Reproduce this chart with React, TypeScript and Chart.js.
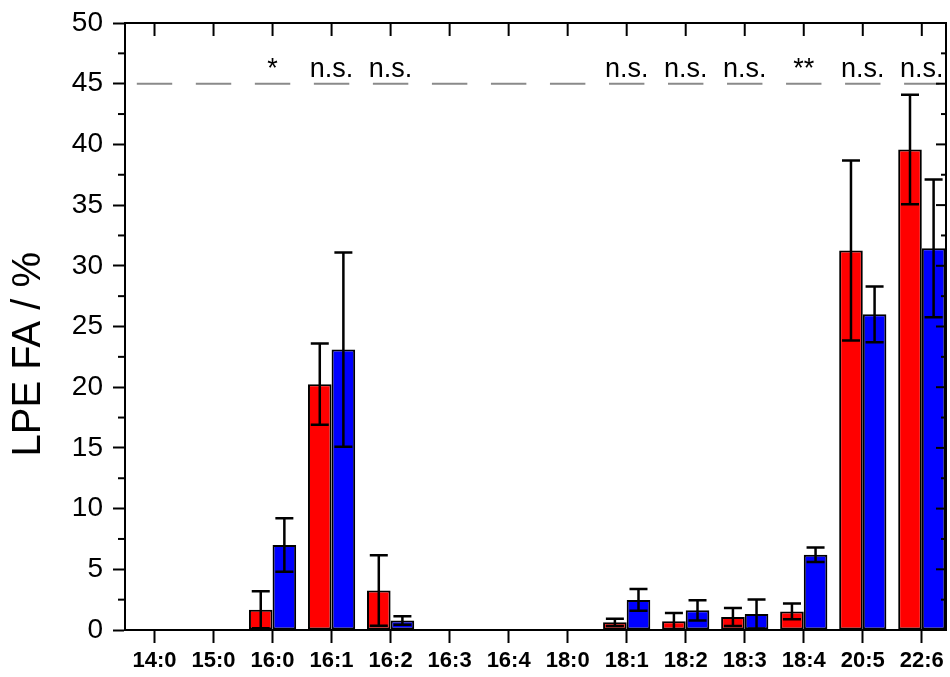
import React, { useEffect, useRef } from 'react';
import { Chart, registerables } from 'chart.js';

Chart.register(...registerables);

const categories = ['14:0', '15:0', '16:0', '16:1', '16:2', '16:3', '16:4', '18:0', '18:1', '18:2', '18:3', '18:4', '20:5', '22:6'];
const redMean = [null, null, 1.67, 20.25, 3.25, null, null, null, 0.63, 0.72, 1.07, 1.53, 31.26, 39.58];
const redErr = [null, null, 1.53, 3.35, 2.9, null, null, null, 0.3, 0.68, 0.75, 0.65, 7.42, 4.52];
const blueMean = [null, null, 7.0, 23.1, 0.78, null, null, null, 2.48, 1.62, 1.32, 6.2, 26.0, 31.44];
const blueErr = [null, null, 2.2, 8.0, 0.35, null, null, null, 0.9, 0.84, 1.2, 0.6, 2.3, 5.67];
const sigLabels = ['', '', '*', 'n.s.', 'n.s.', '', '', '', 'n.s.', 'n.s.', 'n.s.', '**', 'n.s.', 'n.s.'];
const sigLevel = 45;
const yMin = 0;
const yMax = 50;
const yStep = 5;
const yTitle = 'LPE FA / %';

const FONT = '"Liberation Sans", Arial, sans-serif';

const framePlugin = {
  id: 'frameExtras',
  afterDatasetsDraw(chart: any) {
    const { ctx, scales } = chart;
    const y = scales.y;
    ctx.save();
    ctx.strokeStyle = '#000';
    ctx.lineWidth = 2.5;
    chart.data.datasets.forEach((ds: any, di: number) => {
      const meta = chart.getDatasetMeta(di);
      meta.data.forEach((el: any, i: number) => {
        const v = ds.data[i] ? ds.data[i].y : null;
        const e = ds.errors[i];
        if (v == null || e == null) return;
        const x = el.x;
        const yt = y.getPixelForValue(v + e);
        const yb = y.getPixelForValue(v - e);
        ctx.beginPath();
        ctx.moveTo(x, yt);
        ctx.lineTo(x, yb);
        ctx.moveTo(x - 9, yt);
        ctx.lineTo(x + 9, yt);
        ctx.moveTo(x - 9, yb);
        ctx.lineTo(x + 9, yb);
        ctx.stroke();
      });
    });
    ctx.restore();
  },
  afterDraw(chart: any) {
    const { ctx, chartArea, scales } = chart;
    const x = scales.x;
    const y = scales.y;
    const { left, right, top, bottom } = chartArea;
    ctx.save();
    // significance dashes + labels
    const ys = y.getPixelForValue(sigLevel);
    ctx.strokeStyle = '#8a8a8a';
    ctx.lineWidth = 2;
    categories.forEach((_, i) => {
      const x0 = x.getPixelForValue(i + 1 - 0.3);
      const x1 = x.getPixelForValue(i + 1 + 0.3);
      ctx.beginPath();
      ctx.moveTo(x0, ys);
      ctx.lineTo(Math.min(x1, right), ys);
      ctx.stroke();
    });
    ctx.fillStyle = '#000';
    ctx.font = `27px ${FONT}`;
    ctx.textAlign = 'center';
    ctx.textBaseline = 'alphabetic';
    sigLabels.forEach((t, i) => {
      if (!t) return;
      ctx.fillText(t, x.getPixelForValue(i + 1), ys - 7);
    });
    // frame: top and right axes
    ctx.strokeStyle = '#000';
    ctx.lineWidth = 2;
    ctx.beginPath();
    ctx.moveTo(left - 1, top);
    ctx.lineTo(right + 1, top);
    ctx.moveTo(right, top);
    ctx.lineTo(right, bottom + 1);
    ctx.stroke();
    // top ticks (inward)
    categories.forEach((_, i) => {
      const px = x.getPixelForValue(i + 1);
      ctx.beginPath();
      ctx.moveTo(px, top);
      ctx.lineTo(px, top + 13);
      ctx.stroke();
    });
    // left minor ticks (outward), right ticks (inward)
    for (let v = yMin; v <= yMax + 1e-9; v += yStep / 2) {
      const py = y.getPixelForValue(v);
      const major = Math.abs(v / yStep - Math.round(v / yStep)) < 1e-6;
      if (!major) {
        ctx.beginPath();
        ctx.moveTo(left, py);
        ctx.lineTo(left - 7, py);
        ctx.stroke();
      }
      ctx.beginPath();
      ctx.moveTo(right, py);
      ctx.lineTo(right - (major ? 10 : 5), py);
      ctx.stroke();
    }
    ctx.restore();
  },
};

export default function App() {
  const ref = useRef<HTMLCanvasElement | null>(null);
  useEffect(() => {
    if (!ref.current) return;
    const chart = new Chart(ref.current, {
      type: 'bar',
      data: {
        datasets: [
          {
            label: 'red',
            data: categories.map((_, i) => ({ x: i + 1, y: redMean[i] })),
            errors: redErr,
            backgroundColor: '#ff0000',
            borderColor: '#000',
            borderWidth: 2,
            borderSkipped: false,
            categoryPercentage: 0.8,
            barPercentage: 1.0,
          } as any,
          {
            label: 'blue',
            data: categories.map((_, i) => ({ x: i + 1, y: blueMean[i] })),
            errors: blueErr,
            backgroundColor: '#0000ff',
            borderColor: '#000',
            borderWidth: 2,
            borderSkipped: false,
            categoryPercentage: 0.8,
            barPercentage: 1.0,
          } as any,
        ],
      },
      options: {
        animation: false,
        responsive: true,
        maintainAspectRatio: false,
        layout: { padding: { top: 23, right: 4, left: 0, bottom: 0 } },
        plugins: { legend: { display: false }, tooltip: { enabled: false } },
        scales: {
          x: {
            type: 'linear',
            min: 0.5,
            max: 14.41,
            offset: false,
            grid: { offset: false, drawOnChartArea: false, drawTicks: true, tickLength: 13, tickWidth: 2, tickColor: '#000' },
            border: { display: true, color: '#000', width: 2 },
            afterBuildTicks: (scale: any) => {
              scale.ticks = categories.map((_, i) => ({ value: i + 1 }));
            },
            afterFit: (scale: any) => {
              scale.height = 47;
              scale.paddingLeft = 0;
              scale.paddingRight = 0;
            },
            ticks: {
              autoSkip: false,
              maxRotation: 0,
              minRotation: 0,
              padding: 5,
              color: '#000',
              font: { family: FONT, size: 22, weight: 'bold' },
              callback: (v: any) => categories[Math.round(v) - 1] ?? '',
            },
          } as any,
          y: {
            min: yMin,
            max: yMax,
            grid: { drawOnChartArea: false, drawTicks: true, tickLength: 12, tickWidth: 2, tickColor: '#000' },
            border: { display: true, color: '#000', width: 2 },
            afterFit: (scale: any) => {
              scale.width = 125;
              scale.paddingTop = 0;
              scale.paddingBottom = 0;
            },
            ticks: {
              stepSize: yStep,
              padding: 10,
              color: '#000',
              font: { family: FONT, size: 28 },
            },
            title: {
              display: true,
              text: yTitle + '\u00a0\u00a0\u00a0\u00a0\u00a0',
              color: '#000',
              font: { family: FONT, size: 40 },
              padding: { top: 5, bottom: 0 },
            },
          } as any,
        },
      },
      plugins: [framePlugin],
    } as any);
    return () => chart.destroy();
  }, []);
  return (
    <div style={{ position: 'absolute', left: 0, top: 0, width: 950, height: 677, background: '#fff' }}>
      <canvas ref={ref} />
    </div>
  );
}
